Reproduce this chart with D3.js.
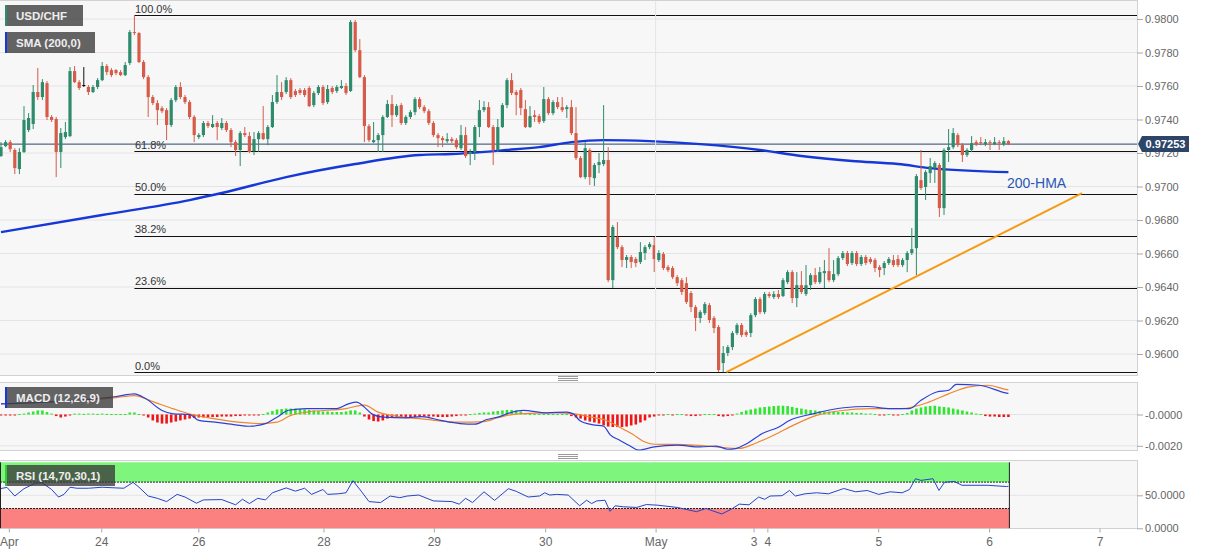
<!DOCTYPE html>
<html>
<head>
<meta charset="utf-8">
<script src="https://cdn.jsdelivr.net/npm/d3@7"></script>
<style>
  body { margin: 0; background: #fff; }
  text { font-family: "Liberation Sans", Arial, sans-serif; }
</style>
</head>
<body>
<div id="chart"></div>
<script>
// hourly USD/CHF candles, [open, high, low, close], index = bar number
const candles = [
  [0.97182,0.97265,0.97176,0.97235],[0.97241,0.97277,0.97235,0.97265],[0.97265,0.97277,0.97206,0.97223],[0.97218,0.97229,0.97074,0.97110],[0.97104,0.97229,0.97074,0.97206],
  [0.97206,0.97480,0.97200,0.97397],[0.97337,0.97438,0.97325,0.97409],[0.97373,0.97606,0.97343,0.97564],[0.97564,0.97707,0.97516,0.97534],[0.97534,0.97641,0.97516,0.97623],
  [0.97617,0.97629,0.97397,0.97415],[0.97415,0.97426,0.97385,0.97397],[0.97403,0.97415,0.97056,0.97206],[0.97206,0.97349,0.97110,0.97319],[0.97295,0.97385,0.97283,0.97325],
  [0.97301,0.97713,0.97295,0.97689],[0.97689,0.97719,0.97617,0.97623],[0.97623,0.97635,0.97576,0.97588],[0.97606,0.97713,0.97594,0.97606],[0.97594,0.97606,0.97546,0.97564],
  [0.97564,0.97606,0.97558,0.97594],[0.97594,0.97647,0.97582,0.97635],[0.97635,0.97743,0.97629,0.97719],[0.97719,0.97731,0.97665,0.97683],[0.97695,0.97707,0.97653,0.97665],
  [0.97695,0.97701,0.97665,0.97677],[0.97683,0.97695,0.97659,0.97665],[0.97665,0.97743,0.97659,0.97725],[0.97737,0.97934,0.97725,0.97922],[0.97922,0.98023,0.97904,0.97916],
  [0.97916,0.97922,0.97737,0.97743],[0.97743,0.97755,0.97641,0.97653],[0.97653,0.97665,0.97415,0.97534],[0.97534,0.97546,0.97486,0.97498],[0.97498,0.97516,0.97367,0.97456],
  [0.97468,0.97480,0.97438,0.97450],[0.97456,0.97468,0.97277,0.97367],[0.97367,0.97528,0.97355,0.97516],[0.97516,0.97606,0.97504,0.97594],[0.97594,0.97623,0.97522,0.97534],
  [0.97534,0.97546,0.97492,0.97504],[0.97504,0.97516,0.97403,0.97415],[0.97415,0.97426,0.97265,0.97307],[0.97295,0.97319,0.97283,0.97307],[0.97307,0.97391,0.97295,0.97379],
  [0.97379,0.97391,0.97349,0.97361],[0.97355,0.97426,0.97349,0.97373],[0.97379,0.97391,0.97277,0.97355],[0.97349,0.97409,0.97337,0.97379],[0.97379,0.97391,0.97325,0.97337],
  [0.97337,0.97349,0.97235,0.97265],[0.97265,0.97277,0.97182,0.97218],[0.97218,0.97331,0.97122,0.97319],[0.97319,0.97355,0.97295,0.97307],[0.97301,0.97325,0.97200,0.97206],
  [0.97212,0.97325,0.97188,0.97283],[0.97283,0.97331,0.97206,0.97319],[0.97319,0.97480,0.97277,0.97283],[0.97283,0.97367,0.97247,0.97355],[0.97355,0.97546,0.97349,0.97504],
  [0.97504,0.97665,0.97492,0.97564],[0.97564,0.97623,0.97516,0.97534],[0.97564,0.97653,0.97552,0.97635],[0.97635,0.97647,0.97522,0.97534],[0.97570,0.97582,0.97534,0.97546],
  [0.97576,0.97588,0.97546,0.97558],[0.97576,0.97588,0.97534,0.97546],[0.97588,0.97600,0.97474,0.97480],[0.97486,0.97570,0.97474,0.97558],[0.97558,0.97606,0.97546,0.97594],
  [0.97594,0.97606,0.97486,0.97498],[0.97504,0.97606,0.97492,0.97582],[0.97588,0.97600,0.97552,0.97564],[0.97570,0.97606,0.97558,0.97594],[0.97588,0.97635,0.97582,0.97600],
  [0.97600,0.97617,0.97546,0.97558],[0.97570,0.97994,0.97564,0.97982],[0.97982,0.97994,0.97803,0.97814],[0.97814,0.97880,0.97647,0.97653],[0.97653,0.97665,0.97265,0.97361],
  [0.97361,0.97373,0.97265,0.97277],[0.97265,0.97385,0.97259,0.97277],[0.97277,0.97319,0.97206,0.97307],[0.97307,0.97426,0.97206,0.97415],[0.97415,0.97516,0.97409,0.97492],
  [0.97492,0.97546,0.97355,0.97426],[0.97426,0.97492,0.97415,0.97480],[0.97486,0.97498,0.97367,0.97379],[0.97379,0.97426,0.97367,0.97415],[0.97415,0.97456,0.97403,0.97444],
  [0.97444,0.97534,0.97426,0.97522],[0.97522,0.97534,0.97462,0.97474],[0.97474,0.97486,0.97438,0.97450],[0.97450,0.97462,0.97367,0.97379],[0.97379,0.97391,0.97295,0.97307],
  [0.97307,0.97319,0.97235,0.97289],[0.97289,0.97301,0.97235,0.97277],[0.97271,0.97319,0.97259,0.97283],[0.97283,0.97295,0.97259,0.97271],[0.97277,0.97289,0.97223,0.97235],
  [0.97229,0.97367,0.97218,0.97307],[0.97307,0.97355,0.97170,0.97182],[0.97194,0.97223,0.97128,0.97206],[0.97206,0.97367,0.97158,0.97355],[0.97355,0.97516,0.97295,0.97456],
  [0.97456,0.97510,0.97444,0.97474],[0.97474,0.97504,0.97349,0.97355],[0.97355,0.97367,0.97128,0.97218],[0.97218,0.97403,0.97206,0.97355],[0.97355,0.97498,0.97349,0.97486],
  [0.97486,0.97647,0.97468,0.97635],[0.97635,0.97677,0.97546,0.97558],[0.97564,0.97576,0.97426,0.97546],[0.97576,0.97588,0.97426,0.97468],[0.97462,0.97516,0.97349,0.97355],
  [0.97355,0.97480,0.97349,0.97420],[0.97426,0.97456,0.97385,0.97415],[0.97420,0.97432,0.97373,0.97385],[0.97391,0.97594,0.97379,0.97522],[0.97522,0.97534,0.97426,0.97438],
  [0.97438,0.97516,0.97426,0.97504],[0.97504,0.97534,0.97462,0.97474],[0.97474,0.97534,0.97444,0.97456],[0.97462,0.97486,0.97409,0.97474],[0.97474,0.97516,0.97307,0.97319],
  [0.97319,0.97474,0.97158,0.97170],[0.97170,0.97182,0.97050,0.97056],[0.97056,0.97265,0.97044,0.97229],[0.97218,0.97229,0.97009,0.97056],[0.97050,0.97140,0.97003,0.97128],
  [0.97128,0.97200,0.97080,0.97146],[0.97134,0.97486,0.97122,0.97158],[0.97158,0.97235,0.96429,0.96441],[0.96441,0.96770,0.96394,0.96758],[0.96698,0.96788,0.96626,0.96638],
  [0.96638,0.96650,0.96519,0.96561],[0.96561,0.96591,0.96513,0.96579],[0.96579,0.96591,0.96513,0.96549],[0.96567,0.96579,0.96519,0.96543],[0.96549,0.96668,0.96537,0.96609],
  [0.96603,0.96650,0.96561,0.96638],[0.96638,0.96668,0.96626,0.96656],[0.96650,0.96698,0.96489,0.96567],[0.96561,0.96620,0.96549,0.96603],[0.96597,0.96609,0.96501,0.96513],
  [0.96519,0.96531,0.96489,0.96501],[0.96513,0.96525,0.96447,0.96459],[0.96459,0.96471,0.96406,0.96423],[0.96441,0.96453,0.96352,0.96370],[0.96423,0.96459,0.96298,0.96310],
  [0.96364,0.96376,0.96250,0.96280],[0.96280,0.96292,0.96137,0.96215],[0.96215,0.96262,0.96185,0.96250],[0.96244,0.96310,0.96232,0.96298],[0.96292,0.96304,0.96185,0.96203],
  [0.96215,0.96227,0.96125,0.96155],[0.96161,0.96173,0.95892,0.95904],[0.95946,0.96047,0.95892,0.96006],[0.96006,0.96053,0.95988,0.96041],[0.96041,0.96137,0.96023,0.96125],
  [0.96125,0.96185,0.96113,0.96173],[0.96173,0.96185,0.96101,0.96113],[0.96131,0.96143,0.96101,0.96113],[0.96125,0.96244,0.96101,0.96232],[0.96232,0.96340,0.96220,0.96328],
  [0.96328,0.96340,0.96238,0.96250],[0.96250,0.96370,0.96238,0.96358],[0.96358,0.96370,0.96334,0.96346],[0.96340,0.96376,0.96328,0.96358],[0.96358,0.96382,0.96328,0.96340],
  [0.96346,0.96453,0.96340,0.96441],[0.96429,0.96501,0.96417,0.96489],[0.96489,0.96501,0.96304,0.96334],[0.96334,0.96489,0.96280,0.96411],[0.96411,0.96495,0.96358,0.96370],
  [0.96358,0.96531,0.96346,0.96411],[0.96411,0.96483,0.96382,0.96471],[0.96471,0.96513,0.96417,0.96429],[0.96429,0.96519,0.96417,0.96489],[0.96483,0.96561,0.96394,0.96495],
  [0.96495,0.96632,0.96429,0.96441],[0.96441,0.96561,0.96429,0.96477],[0.96477,0.96585,0.96465,0.96573],[0.96573,0.96615,0.96561,0.96603],[0.96603,0.96615,0.96525,0.96537],
  [0.96543,0.96615,0.96531,0.96603],[0.96603,0.96615,0.96525,0.96537],[0.96537,0.96591,0.96525,0.96579],[0.96579,0.96591,0.96531,0.96543],[0.96567,0.96579,0.96537,0.96549],
  [0.96561,0.96573,0.96489,0.96513],[0.96519,0.96531,0.96459,0.96501],[0.96513,0.96555,0.96471,0.96543],[0.96543,0.96579,0.96531,0.96567],[0.96561,0.96591,0.96519,0.96531],
  [0.96567,0.96591,0.96519,0.96531],[0.96531,0.96573,0.96519,0.96561],[0.96561,0.96615,0.96489,0.96603],[0.96603,0.96752,0.96591,0.96626],[0.96632,0.97074,0.96471,0.97062],
  [0.97038,0.97218,0.96979,0.96991],[0.96997,0.97098,0.96919,0.97086],[0.97080,0.97170,0.97021,0.97122],[0.97110,0.97152,0.97021,0.97140],[0.97128,0.97140,0.96818,0.96871],
  [0.96871,0.97229,0.96830,0.97218],[0.97218,0.97343,0.97146,0.97235],[0.97235,0.97349,0.97223,0.97319],[0.97307,0.97319,0.97235,0.97247],[0.97247,0.97259,0.97146,0.97188],
  [0.97188,0.97229,0.97176,0.97218],[0.97218,0.97301,0.97206,0.97259],[0.97265,0.97277,0.97241,0.97253],[0.97265,0.97295,0.97247,0.97259],[0.97253,0.97283,0.97241,0.97265],
  [0.97265,0.97277,0.97218,0.97259],[0.97253,0.97295,0.97247,0.97265],[0.97265,0.97277,0.97218,0.97259],[0.97253,0.97295,0.97241,0.97271],[0.97271,0.97277,0.97247,0.97253]
];

// SMA(200), [bar, value]
const sma200 = [
  [0,0.96728],[22,0.96830],[41,0.96919],[48,0.96961],[62,0.97056],[77,0.97134],[91,0.97188],[98,0.97194],
  [110,0.97218],[117,0.97235],[124,0.97265],[131,0.97277],[141,0.97271],[152,0.97253],[165,0.97218],
  [174,0.97182],[185,0.97152],[195,0.97134],[202,0.97110],[219,0.97086]
];

// support trend line, [bar, price]
const trendLine = [[157.7, 0.95892], [235, 0.96961]];

// Fibonacci retracement
const fibHigh = 0.98023, fibLow = 0.95892, fibStartBar = 29;
const fibRatios = [1, 0.618, 0.5, 0.382, 0.236, 0];
const fibLabels = ["100.0%", "61.8%", "50.0%", "38.2%", "23.6%", "0.0%"];

const lastPrice = 0.97253;
const priceTicks = [0.9600, 0.9620, 0.9640, 0.9660, 0.9680, 0.9700, 0.9720, 0.9740, 0.9760, 0.9780, 0.9800];

// MACD (12,26,9)
const macdLine = [
  [0,0.00068],[25,0.00115],[29,0.00132],[31.5,0.00100],[35,0.00026],[37.5,0.00004],[41,0],[43,-0.00038],
  [46.5,-0.00049],[51,-0.00066],[54,-0.00075],[57.5,-0.00058],[60,-0.00017],[62.5,0.00027],[66.5,0.00038],
  [73,0.00038],[75.5,0.00068],[77.3,0.00079],[79,0.00047],[80.6,0.00004],[83,-0.00017],[88,-0.00021],
  [91.5,-0.00013],[95.6,-0.00038],[99.8,-0.00058],[103,-0.00062],[105.6,-0.00032],[108,-0.00017],
  [110.6,0.00010],[113.5,0.00026],[118.6,0.00011],[123,0.00015],[124.4,0.00004],[125.8,-0.00038],
  [128.7,-0.00066],[131,-0.00075],[132.5,-0.00132],[134.5,-0.00164],[136.7,-0.00200],[138.6,-0.00228],
  [142,-0.00207],[147,-0.00196],[152,-0.00207],[155.5,-0.00202],[158,-0.00222],[159.7,-0.00218],
  [162.2,-0.00185],[165.5,-0.00121],[169,-0.00081],[171.4,-0.00038],[176.5,0.00004],[183.2,0.00043],
  [188.3,0.00051],[193.3,0.00038],[197.5,0.00038],[200,0.00091],[203.4,0.00144],[206,0.00155],
  [207.7,0.00193],[212.7,0.00187],[218.6,0.00137],[219,0.00135]
];
const signalLine = [
  [0,0.00068],[25,0.00108],[29,0.00121],[33.3,0.00079],[37.5,0.00036],[41.5,0],[46.5,-0.00028],
  [51.5,-0.00049],[56.5,-0.00058],[60,-0.00049],[63,-0.00006],[66.5,0.00015],[75,0.00038],[79,0.00060],
  [82,0.00015],[86.5,-0.00013],[91.5,-0.00028],[99.8,-0.00049],[105,-0.00045],[108,-0.00021],
  [112.3,0.00004],[120.6,0.00011],[124.8,0.00004],[127.3,-0.00011],[131.6,-0.00038],[134.5,-0.00081],
  [137.4,-0.00128],[139.6,-0.00171],[142,-0.00190],[148.7,-0.00192],[155.5,-0.00207],[160.5,-0.00217],
  [163.9,-0.00185],[168,-0.00132],[172.3,-0.00068],[177.3,-0.00006],[182.4,0.00024],[189.1,0.00038],
  [195.8,0.00038],[201.7,0.00079],[206,0.00132],[210.2,0.00175],[214.4,0.00187],[218.6,0.00159],[219,0.00157]
];
const macdHist = [
  -0.00003,-0.00003,-0.00003,-0.00003,0.00003,0.00006,0.00013,0.00019,0.00026,0.00026,
  0.00016,0.00006,-0.0001,-0.00019,-0.00013,-0.00003,0.00006,0.00006,0.00004,0.00006,
  0.00006,0.00004,0.00006,0.00004,0.00003,0.00003,0.00003,0.00003,0.00013,0.00013,
  0.00003,-0.00003,-0.00019,-0.00038,-0.00051,-0.00058,-0.00058,-0.00051,-0.00045,-0.00038,
  -0.00032,-0.00026,-0.00022,-0.00019,-0.00019,-0.00019,-0.00016,-0.00016,-0.00013,-0.00013,
  -0.00013,-0.0001,-0.0001,-0.00006,-0.00006,-0.00003,-0.00003,0.00003,0.00013,0.00022,
  0.00032,0.00035,0.00038,0.00038,0.00038,0.00035,0.00032,0.00029,0.00026,0.00022,
  0.00019,0.00019,0.00016,0.00016,0.00016,0.00019,0.00026,0.00026,0.00013,-0.00013,
  -0.00032,-0.00042,-0.00045,-0.00038,-0.00026,-0.00019,-0.00019,-0.00016,-0.00016,-0.00016,
  -0.00016,-0.00016,-0.00013,-0.00013,-0.00013,-0.00016,-0.00016,-0.00016,-0.00013,-0.0001,
  -0.00006,-0.00003,0.00003,0.00006,0.0001,0.00013,0.00013,0.00019,0.00022,0.00026,
  0.00029,0.00029,0.00026,0.00019,0.00006,0.00003,0.00003,0.00003,0.00003,0.00003,
  0.00003,0.00003,0.00003,0.00003,-0.0001,-0.00019,-0.00026,-0.00038,-0.00045,-0.00051,
  -0.00058,-0.0007,-0.00077,-0.0008,-0.0008,-0.0008,-0.00077,-0.0007,-0.00064,-0.00051,
  -0.00038,-0.00019,-0.00013,-0.00006,-0.00003,0.00003,-0.00003,0.00003,0.00003,-0.00003,
  -0.0001,-0.0001,-0.00006,0.00003,0.00003,0.00003,-0.0001,-0.00013,-0.0001,-0.00003,
  0.00006,0.00016,0.00026,0.00032,0.00038,0.00045,0.00048,0.00051,0.00054,0.00056,
  0.00056,0.00054,0.00048,0.00042,0.00038,0.00032,0.00029,0.00026,0.00022,0.00019,
  0.00019,0.00017,0.00016,0.00016,0.00013,0.00013,0.0001,0.0001,0.00006,0.00006,
  0.00003,-0.00003,-0.00003,0.00003,-0.00003,-0.00003,0.00003,0.0001,0.00026,0.00038,
  0.00045,0.00051,0.00054,0.00056,0.00051,0.00048,0.00045,0.00038,0.00032,0.00026,
  0.00019,0.00013,0.00006,0.00003,-0.0001,-0.00013,-0.00013,-0.00016,-0.00016,-0.00016
];
const macdTicks = [0, -0.002];
const macdTickLabels = ["-0.0000", "-0.0020"];

// RSI (14,70,30,1)
const rsiLine = [
  [0,60.3],[1.3,62],[3,48.9],[5,60],[7.5,68.6],[9,68.6],[11,58.8],[12.5,47.4],[13.7,51.4],[15,62.2],
  [16.5,60.7],[19,60.7],[22,62.2],[25,61.2],[26.7,60.7],[28.7,69.6],[30,62.2],[32,48.9],[34,45.4],
  [36,40.5],[38.3,51.4],[40,47.4],[42.5,38],[44,43],[48,43.5],[51,35.6],[52.5,44],[54,37.5],[55.8,45.4],
  [57.5,43],[59,53.8],[62,61.2],[64,56.3],[66,60.7],[67.5,51.4],[70,58.8],[71,51.4],[73.3,52.3],
  [75,53.8],[76.5,72.1],[78.3,56.3],[80,40.5],[82.5,39],[84.6,48.9],[86.7,46.4],[88.3,48.9],[90.8,50.4],
  [94,41.5],[98,40.5],[99.6,36.6],[101,45.4],[102.5,39],[105,55.3],[107.3,42.3],[110.3,60],[112,56],
  [114.6,47.4],[117.1,49],[118.2,53.8],[119.3,50.4],[120.8,51.4],[123.3,50.4],[125.8,34.1],[127.3,42.5],
  [128.4,37.5],[129.5,41.5],[131.3,42.5],[132.4,25.7],[133.5,34.1],[135.3,32.6],[138.2,31.6],[140.3,36],
  [142.8,35],[147,31.6],[151.2,25.2],[153.3,30.1],[154.6,26.7],[156.7,21.7],[158.8,29.1],[160.5,36.6],
  [162.6,35.6],[164.7,47.4],[166,43.9],[167.2,48.9],[169.8,49.4],[171.4,57.3],[172.7,48.9],[174.8,52.3],
  [177.3,53.8],[179.9,52.3],[183.2,60.3],[185.8,55.3],[188.3,57.3],[190.8,51.4],[193.3,55.3],[195.9,53.8],
  [197.5,58.8],[198.8,75.1],[200,72.6],[202.6,75.1],[203.9,57.3],[205.1,69.6],[207.2,71.1],[208.9,65.2],
  [214.4,65.2],[218.6,63.3],[219,63.5]
];
const rsiTicks = [50, 0];
const rsiTickLabels = ["50.0000", "0.0000"];
const rsiUpper = 70, rsiLower = 30;

// time axis, positions in bars
const dayTicks = [1.7, 21.8, 42.9, 70.1, 94.1, 118.3, 142.3, 163.6, 166.6, 190.7, 214.8, 238.8];
const dayLabels = ["Apr", "24", "26", "28", "29", "30", "May", "3", "4", "5", "6", "7"];
const monthStartBar = 142.3;

const width = 1207, height = 555;
const plotR = 1137;
const mainTop = 0.5, mainBot = 375.5;
const macdTop = 382.5, macdBot = 450.5;
const rsiTop = 460.5, rsiBot = 528.5;

const up = '#2e8b6c', down = '#d65c49';
const panelBg = '#f7f7f8', border = '#d2d2d2', grid = '#e4e4e6';

const svg = d3.select('#chart').append('svg')
  .attr('width', width).attr('height', height);

const x = d3.scaleLinear().domain([0, 247]).range([1, 1137.2]);
const y = d3.scaleLinear().domain([0.96, 0.98]).range([354, 19]);
const ym = d3.scaleLinear().domain([-0.002, 0]).range([445.8, 414.5]);
const yr = d3.scaleLinear().domain([0, 100]).range([528.3, 462.3]);

const defs = svg.append('defs');
[['clipMain', mainTop, mainBot], ['clipMacd', macdTop, macdBot], ['clipRsi', rsiTop, rsiBot]]
  .forEach(([id, t, b]) => {
    defs.append('clipPath').attr('id', id)
      .append('rect').attr('x', 0).attr('y', t).attr('width', plotR).attr('height', b - t);
  });

// panels
[[mainTop, mainBot], [macdTop, macdBot], [rsiTop, rsiBot]].forEach(([t, b]) => {
  svg.append('rect')
    .attr('x', -1).attr('y', t).attr('width', plotR + 1.5).attr('height', b - t)
    .attr('fill', panelBg).attr('stroke', border);
});

// separators between panels
[378.5, 456.5].forEach(cy => {
  [-2, 0, 2].forEach(o => {
    svg.append('line').attr('x1', 558).attr('x2', 578)
      .attr('y1', cy + o).attr('y2', cy + o)
      .attr('stroke', '#8e8e8e').attr('stroke-width', 0.9);
  });
});

// ---------- main panel ----------
const main = svg.append('g').attr('clip-path', 'url(#clipMain)');

main.selectAll('.hgrid').data(priceTicks).join('line')
  .attr('x1', 0).attr('x2', plotR)
  .attr('y1', d => y(d)).attr('y2', d => y(d))
  .attr('stroke', grid);

[[mainTop, mainBot], [macdTop, macdBot], [rsiTop, rsiBot]].forEach(([t, b]) => {
  svg.append('line')
    .attr('x1', x(monthStartBar)).attr('x2', x(monthStartBar))
    .attr('y1', t + 1).attr('y2', b - 1)
    .attr('stroke', grid);
});

// fibonacci levels
const fibLevels = fibRatios.map(r => fibLow + r * (fibHigh - fibLow));
main.selectAll('.fib').data(fibLevels).join('line')
  .attr('x1', x(fibStartBar)).attr('x2', plotR)
  .attr('y1', d => Math.round(y(d)) + 0.5).attr('y2', d => Math.round(y(d)) + 0.5)
  .attr('stroke', '#111').attr('stroke-width', 1.1);
main.selectAll('.fibtxt').data(fibLevels).join('text')
  .attr('x', x(fibStartBar) + 0.5).attr('y', d => y(d) - 2.5)
  .attr('font-size', 11).attr('fill', '#333')
  .text((d, i) => fibLabels[i]);

// last price line
main.append('line')
  .attr('x1', 0).attr('x2', plotR)
  .attr('y1', y(lastPrice)).attr('y2', y(lastPrice))
  .attr('stroke', '#2c4568').attr('stroke-width', 1);

// SMA
const line = d3.line().x(d => x(d[0])).y(d => y(d[1])).curve(d3.curveMonotoneX);
main.append('path').datum(sma200)
  .attr('d', line).attr('fill', 'none')
  .attr('stroke', '#1538d6').attr('stroke-width', 2.4);

// trend line
main.append('path').datum(trendLine)
  .attr('d', d3.line().x(d => x(d[0])).y(d => y(d[1])))
  .attr('stroke', '#f59b14').attr('stroke-width', 2).attr('fill', 'none');

// candles
const col = d => d[3] > d[0] ? up : (d[3] < d[0] ? down : '#111');
const cg = main.append('g');
cg.selectAll('.wick').data(candles).join('line')
  .attr('x1', (d, i) => x(i)).attr('x2', (d, i) => x(i))
  .attr('y1', d => y(d[1])).attr('y2', d => y(d[2]))
  .attr('stroke', col).attr('stroke-width', 1);
cg.selectAll('.body').data(candles).join('rect')
  .attr('x', (d, i) => x(i) - 1.6).attr('width', 3.2)
  .attr('y', d => y(Math.max(d[0], d[3])))
  .attr('height', d => Math.max(1, Math.abs(y(d[0]) - y(d[3]))))
  .attr('fill', col);

main.append('text')
  .attr('x', 1007).attr('y', 188)
  .attr('font-size', 14).attr('fill', '#2a57b4')
  .text('200-HMA');

// price axis
const pAxis = svg.append('g').attr('transform', `translate(${plotR},0)`)
  .call(d3.axisRight(y).tickValues(priceTicks).tickFormat(d3.format('.4f')).tickSize(6).tickPadding(2));
pAxis.select('.domain').remove();
pAxis.selectAll('line').attr('stroke', '#a8a8a8');
pAxis.selectAll('text').attr('font-size', 11).attr('fill', '#666')
  .style('font-family', '"Liberation Sans", Arial, sans-serif');

// last price tag
const ty = y(lastPrice);
svg.append('path')
  .attr('d', `M${plotR + 1},${ty} L${plotR + 5},${ty - 8} L${plotR + 52},${ty - 8} L${plotR + 52},${ty + 8} L${plotR + 5},${ty + 8} Z`)
  .attr('fill', '#2c4568');
svg.append('text')
  .attr('x', plotR + 28.5).attr('y', ty + 4)
  .attr('text-anchor', 'middle').attr('font-size', 11).attr('font-weight', 'bold')
  .attr('fill', '#fff').text(lastPrice.toFixed(5));

// ---------- MACD panel ----------
const mg = svg.append('g').attr('clip-path', 'url(#clipMacd)');
mg.selectAll('.mgrid').data(macdTicks).join('line')
  .attr('x1', 0).attr('x2', plotR)
  .attr('y1', d => ym(d)).attr('y2', d => ym(d))
  .attr('stroke', grid);
mg.selectAll('.hist').data(macdHist).join('rect')
  .attr('x', (d, i) => x(i) - 1.3).attr('width', 2.6)
  .attr('y', d => d >= 0 ? ym(d) : ym(0))
  .attr('height', d => Math.max(1, Math.abs(ym(d) - ym(0))))
  .attr('fill', d => d >= 0 ? '#2ee62e' : '#f01515');
const mline = d3.line().x(d => x(d[0])).y(d => ym(d[1])).curve(d3.curveMonotoneX);
mg.append('path').datum(signalLine).attr('d', mline)
  .attr('fill', 'none').attr('stroke', '#f0862c').attr('stroke-width', 1.2);
mg.append('path').datum(macdLine).attr('d', mline)
  .attr('fill', 'none').attr('stroke', '#2a40d8').attr('stroke-width', 1.2);

const mAxis = svg.append('g').attr('transform', `translate(${plotR},0)`)
  .call(d3.axisRight(ym).tickValues(macdTicks).tickFormat((d, i) => macdTickLabels[i]).tickSize(6).tickPadding(2));
mAxis.select('.domain').remove();
mAxis.selectAll('line').attr('stroke', '#a8a8a8');
mAxis.selectAll('text').attr('font-size', 11).attr('fill', '#666')
  .style('font-family', '"Liberation Sans", Arial, sans-serif');

// ---------- RSI panel ----------
const rg = svg.append('g').attr('clip-path', 'url(#clipRsi)');
const bandR = x(candles.length - 1) + 1;
rg.append('rect').attr('x', 0).attr('width', bandR)
  .attr('y', yr(100)).attr('height', yr(rsiUpper) - yr(100)).attr('fill', '#7ef67e');
rg.append('rect').attr('x', 0).attr('width', bandR)
  .attr('y', yr(rsiLower)).attr('height', yr(0) - yr(rsiLower)).attr('fill', '#fb8080');
rg.append('line').attr('x1', 0).attr('x2', plotR)
  .attr('y1', yr(50)).attr('y2', yr(50)).attr('stroke', grid);
[rsiUpper, rsiLower].forEach(v => {
  rg.append('line').attr('x1', 0).attr('x2', bandR)
    .attr('y1', yr(v)).attr('y2', yr(v))
    .attr('stroke', '#222').attr('stroke-width', 1).attr('stroke-dasharray', '2,1');
});
[0.5, bandR].forEach(bx => {
  rg.append('line').attr('x1', bx).attr('x2', bx)
    .attr('y1', yr(100)).attr('y2', yr(0))
    .attr('stroke', '#222').attr('stroke-width', 1);
});
rg.append('path').datum(rsiLine)
  .attr('d', d3.line().x(d => x(d[0])).y(d => yr(d[1])))
  .attr('fill', 'none').attr('stroke', '#2444c6').attr('stroke-width', 1);

const rAxis = svg.append('g').attr('transform', `translate(${plotR},0)`)
  .call(d3.axisRight(yr).tickValues(rsiTicks).tickFormat((d, i) => rsiTickLabels[i]).tickSize(6).tickPadding(2));
rAxis.select('.domain').remove();
rAxis.selectAll('line').attr('stroke', '#a8a8a8');
rAxis.selectAll('text').attr('font-size', 11).attr('fill', '#666')
  .style('font-family', '"Liberation Sans", Arial, sans-serif');

// ---------- time axis ----------
const xAxis = svg.append('g').attr('transform', `translate(0,${rsiBot})`)
  .call(d3.axisBottom(x).tickValues(dayTicks).tickFormat((d, i) => dayLabels[i]).tickSize(4).tickPadding(5));
xAxis.select('.domain').remove();
xAxis.selectAll('line').attr('stroke', '#a8a8a8');
xAxis.selectAll('text').attr('font-size', 12).attr('fill', '#666')
  .style('font-family', '"Liberation Sans", Arial, sans-serif');

// ---------- legend boxes ----------
function tag(x0, y0, w, label, accent) {
  svg.append('rect').attr('x', x0).attr('y', y0).attr('width', w).attr('height', 21)
    .attr('fill', '#3a3a3a').attr('fill-opacity', 0.78);
  svg.append('rect').attr('x', x0).attr('y', y0).attr('width', 2).attr('height', 21)
    .attr('fill', accent);
  svg.append('text').attr('x', x0 + 11).attr('y', y0 + 15)
    .attr('font-size', 11.5).attr('font-weight', 'bold').attr('fill', '#eeeeee')
    .text(label);
}
tag(5, 5, 78, 'USD/CHF', up);
tag(5, 32, 90, 'SMA (200,0)', '#1538d6');
tag(5, 387, 108, 'MACD (12,26,9)', '#1538d6');
tag(5, 465, 110, 'RSI (14,70,30,1)', '#2ecc2e');
</script>
</body>
</html>
